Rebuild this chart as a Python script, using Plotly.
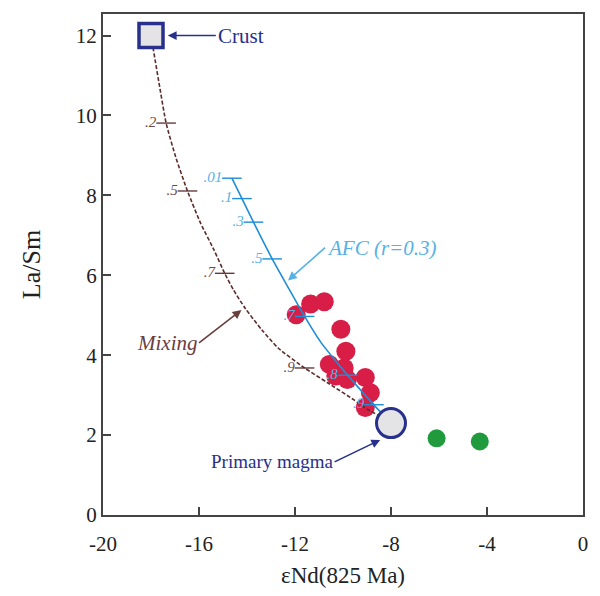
import plotly.graph_objects as go

# ---- data ----
sample_x = [-11.95, -11.35, -10.78, -10.09, -9.88, -10.57, -9.95, -10.30, -9.82, -9.07, -8.86, -9.07]
sample_y = [5.01, 5.28, 5.34, 4.65, 4.10, 3.77, 3.68, 3.48, 3.39, 3.44, 3.06, 2.69]

other_x = [-6.1, -4.3]
other_y = [1.92, 1.84]

crust_x = [-18.0]
crust_y = [12.0]
primary_x = [-8.0]
primary_y = [2.3]

mix_x = [-18.0, -17.62, -17.37, -16.96, -16.48, -15.93, -15.38, -14.93, -14.56, -14.07, -13.39, -12.70, -11.60, -10.64, -9.54, -8.99, -8.4]
mix_y = [12.0, 10.65, 9.81, 8.94, 8.11, 7.30, 6.64, 6.05, 5.63, 5.17, 4.64, 4.18, 3.68, 3.31, 2.88, 2.65, 2.45]
mix_tick_x = [-17.37, -16.48, -14.93, -11.60]
mix_tick_y = [9.81, 8.11, 6.05, 3.68]
mix_tick_labels = [".2", ".5", ".7", ".9"]

afc_x = [-14.63, -14.21, -13.73, -12.95, -12.29, -11.60, -10.92, -10.09, -9.40, -8.58, -8.25]
afc_y = [8.43, 7.92, 7.33, 6.41, 5.70, 4.97, 4.32, 3.70, 3.22, 2.67, 2.47]
afc_tick_x = [-14.63, -14.21, -13.73, -12.95, -11.60, -9.81, -8.71]
afc_tick_y = [8.43, 7.92, 7.33, 6.41, 4.97, 3.50, 2.76]
afc_tick_labels = [".01", ".1", ".3", ".5", ".7", ".8", ".9"]

x_ticks = [-20, -16, -12, -8, -4, 0]
x_tick_text = ["-20", "-16", "-12", "-8", "-4", "0"]
y_ticks = [0, 2, 4, 6, 8, 10, 12]

SERIF = "Liberation Serif, Times New Roman, serif"
NAVY = "#27308a"
BROWN = "#5a2c2c"
AFC_BLUE = "#1f8ed6"
AFC_LABEL = "#55b2e6"

fig = go.Figure()

fig.add_trace(go.Scatter(x=sample_x, y=sample_y, mode="markers",
                         marker=dict(size=19, color="#d81e46", line=dict(width=0)),
                         hoverinfo="skip"))
fig.add_trace(go.Scatter(x=other_x, y=other_y, mode="markers",
                         marker=dict(size=18, color="#1f9a3c", line=dict(width=0)),
                         hoverinfo="skip"))

fig.add_trace(go.Scatter(x=mix_x, y=mix_y, mode="lines",
                         line=dict(color=BROWN, width=1.6, dash="4px,2px", shape="spline", smoothing=0.6),
                         hoverinfo="skip"))
fig.add_trace(go.Scatter(x=afc_x, y=afc_y, mode="lines",
                         line=dict(color=AFC_BLUE, width=1.6, shape="spline", smoothing=0.6),
                         hoverinfo="skip"))

fig.add_trace(go.Scatter(x=mix_tick_x, y=mix_tick_y, mode="markers+text",
                         marker=dict(symbol="line-ew", size=14, line=dict(color=BROWN, width=1.3)),
                         text=mix_tick_labels, textposition="middle left",
                         textfont=dict(family=SERIF, size=15, color="#6e4a4a", style="italic"),
                         hoverinfo="skip"))
fig.add_trace(go.Scatter(x=afc_tick_x, y=afc_tick_y, mode="markers+text",
                         marker=dict(symbol="line-ew", size=14, line=dict(color=AFC_BLUE, width=1.4)),
                         text=afc_tick_labels, textposition="middle left",
                         textfont=dict(family=SERIF, size=15, color=AFC_LABEL, style="italic"),
                         hoverinfo="skip"))

fig.add_trace(go.Scatter(x=crust_x, y=crust_y, mode="markers",
                         marker=dict(symbol="square", size=24, color="#e4e4e6",
                                     line=dict(color=NAVY, width=3.5)),
                         hoverinfo="skip"))
fig.add_trace(go.Scatter(x=primary_x, y=primary_y, mode="markers",
                         marker=dict(symbol="circle", size=29, color="#e4e4e6",
                                     line=dict(color=NAVY, width=3)),
                         hoverinfo="skip"))

annots = [
    dict(x=-17.3, y=12.0, ax=-15.3, ay=12.0, text="Crust", color=NAVY, italic=False, anchor="left", size=21),
    dict(x=-8.45, y=1.88, ax=-10.35, ay=1.33, text="Primary magma", color=NAVY, italic=False, anchor="right", size=19),
    dict(x=-12.29, y=5.87, ax=-10.75, ay=6.69, text="AFC (r=0.3)", color=AFC_LABEL, italic=True, anchor="left", size=21),
    dict(x=-14.23, y=5.13, ax=-16.0, ay=4.31, text="Mixing", color="#6b3e3e", italic=True, anchor="right", size=21),
]
for a in annots:
    fig.add_annotation(x=a["x"], y=a["y"], ax=a["ax"], ay=a["ay"], axref="x", ayref="y",
                       xref="x", yref="y", text=a["text"], showarrow=True,
                       arrowhead=2, arrowsize=1.1, arrowwidth=1.6, arrowcolor=a["color"],
                       xanchor=a["anchor"], yanchor="middle",
                       font=dict(family=SERIF, size=a["size"], color=a["color"],
                                 style="italic" if a["italic"] else "normal"))

fig.update_layout(
    width=600, height=596,
    margin=dict(l=103, r=12, t=12, b=79),
    paper_bgcolor="white", plot_bgcolor="white",
    showlegend=False,
    font=dict(family=SERIF, size=22, color="#222"),
    xaxis=dict(range=[-20, 0], tickvals=x_ticks, ticktext=x_tick_text,
               ticks="inside", ticklen=8, tickwidth=1.5, tickcolor="#444",
               showline=True, linecolor="#444", linewidth=2, mirror=True,
               showgrid=False, zeroline=False, ticklabelstandoff=9,
               title=dict(text="εNd(825 Ma)", font=dict(family=SERIF, size=23), standoff=12),
               tickfont=dict(family=SERIF, size=21)),
    yaxis=dict(range=[0, 12.54], tickvals=y_ticks,
               ticks="inside", ticklen=8, tickwidth=1.5, tickcolor="#444",
               showline=True, linecolor="#444", linewidth=2, mirror=True,
               showgrid=False, zeroline=False,
               title=dict(text="La/Sm", font=dict(family=SERIF, size=26), standoff=28),
               tickfont=dict(family=SERIF, size=21)),
)

fig.write_html("out.html")
